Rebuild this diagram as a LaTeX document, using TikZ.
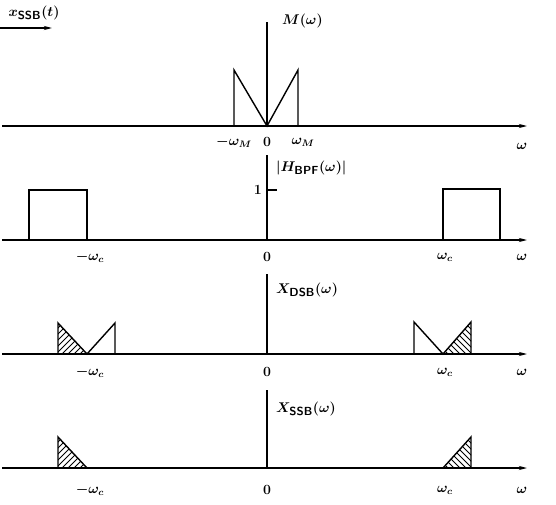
\documentclass[tikz,border=0pt]{standalone}
\usepackage{amsmath}
\usetikzlibrary{arrows.meta}
\tikzset{
	axis/.style={-{Stealth[length=7pt,width=3.5pt]}, line width=1.1pt},
	spec/.style={line width=1.2pt},
	hatch/.style={line width=0.7pt},
	lbl/.style={font=\large\boldmath},
}
\newcommand{\sub}[1]{\text{\normalsize\sffamily\bfseries #1}}

\begin{document}
\begin{tikzpicture}[x=0.03cm,y=-0.03cm]
	\useasboundingbox (0,0) rectangle (556,505);

	% input signal
	\node[lbl] (xin) at (34,13) {$x_{\sub{SSB}}(t)$};
	\draw[axis] (0,28) -- (52,28);

	% M(omega)
	\draw[axis] (2,126) -- (527,126);
	\draw[spec] (267,126) -- (267,22);
	\draw[spec] (234,126) -- (234,70) -- (267,126) -- (298,70) -- (298,126);
	\node[lbl, anchor=west] (M) at (278,21) {$M(\omega)$};
	\node[lbl] (mwM) at (234,142) {$-\omega_M$};
	\node[lbl] (z1) at (267,142) {$0$};
	\node[lbl] (wM) at (303,142) {$\omega_M$};
	\node[lbl] (w1) at (522,146) {$\omega$};

	% bandpass filter
	\draw[axis] (2,240) -- (527,240);
	\draw[spec] (267,240) -- (267,155);
	\draw[spec] (267,190) -- (277,190);
	\node[lbl, anchor=east] (one) at (266,190) {$1$};
	\draw[spec] (29,240) -- (29,190) -- (87,190) -- (87,240);
	\draw[spec] (443,240) -- (443,189) -- (500,189) -- (500,240);
	\node[lbl, anchor=west] (H) at (272,168) {$|H_{\sub{BPF}}(\omega)|$};

	% DSB spectrum
	\draw[axis] (2,354) -- (527,354);
	\draw[spec] (267,354) -- (267,274);
	\begin{scope}
		\clip (58,323) -- (58,354) -- (87,354) -- cycle;
		\foreach \a in {20,26,...,90} \draw[hatch] (\a,360) -- (\a+40,320);
	\end{scope}
	\begin{scope}
		\clip (443,354) -- (471,322) -- (471,354) -- cycle;
		\foreach \a in {400,406,...,480} \draw[hatch] (\a,318) -- (\a+40,358);
	\end{scope}
	\draw[spec] (58,354) -- (58,323) -- (87,354) -- (115,323) -- (115,354);
	\draw[spec] (414,354) -- (414,322) -- (443,354) -- (471,322) -- (471,354);
	\node[lbl, anchor=west] (XD) at (272,290) {$X_{\sub{DSB}}(\omega)$};

	% SSB spectrum
	\draw[axis] (2,468) -- (527,468);
	\draw[spec] (267,468) -- (267,390);
	\begin{scope}
		\clip (58,437) -- (58,468) -- (87,468) -- cycle;
		\foreach \a in {20,26,...,90} \draw[hatch] (\a,474) -- (\a+40,434);
	\end{scope}
	\begin{scope}
		\clip (443,468) -- (471,437) -- (471,468) -- cycle;
		\foreach \a in {400,406,...,480} \draw[hatch] (\a,432) -- (\a+40,472);
	\end{scope}
	\draw[spec] (58,468) -- (58,437) -- (87,468);
	\draw[spec] (443,468) -- (471,437) -- (471,468);
	\node[lbl, anchor=west] (XS) at (272,409) {$X_{\sub{SSB}}(\omega)$};

	% frequency labels
	\foreach \y in {257,372,490} {
		\node[lbl] at (90,\y) {$-\omega_c$};
		\node[lbl] at (267,\y) {$0$};
		\node[lbl] at (445,\y) {$\omega_c$};
		\node[lbl] at (522,\y) {$\omega$};
	}
\end{tikzpicture}
\end{document}
